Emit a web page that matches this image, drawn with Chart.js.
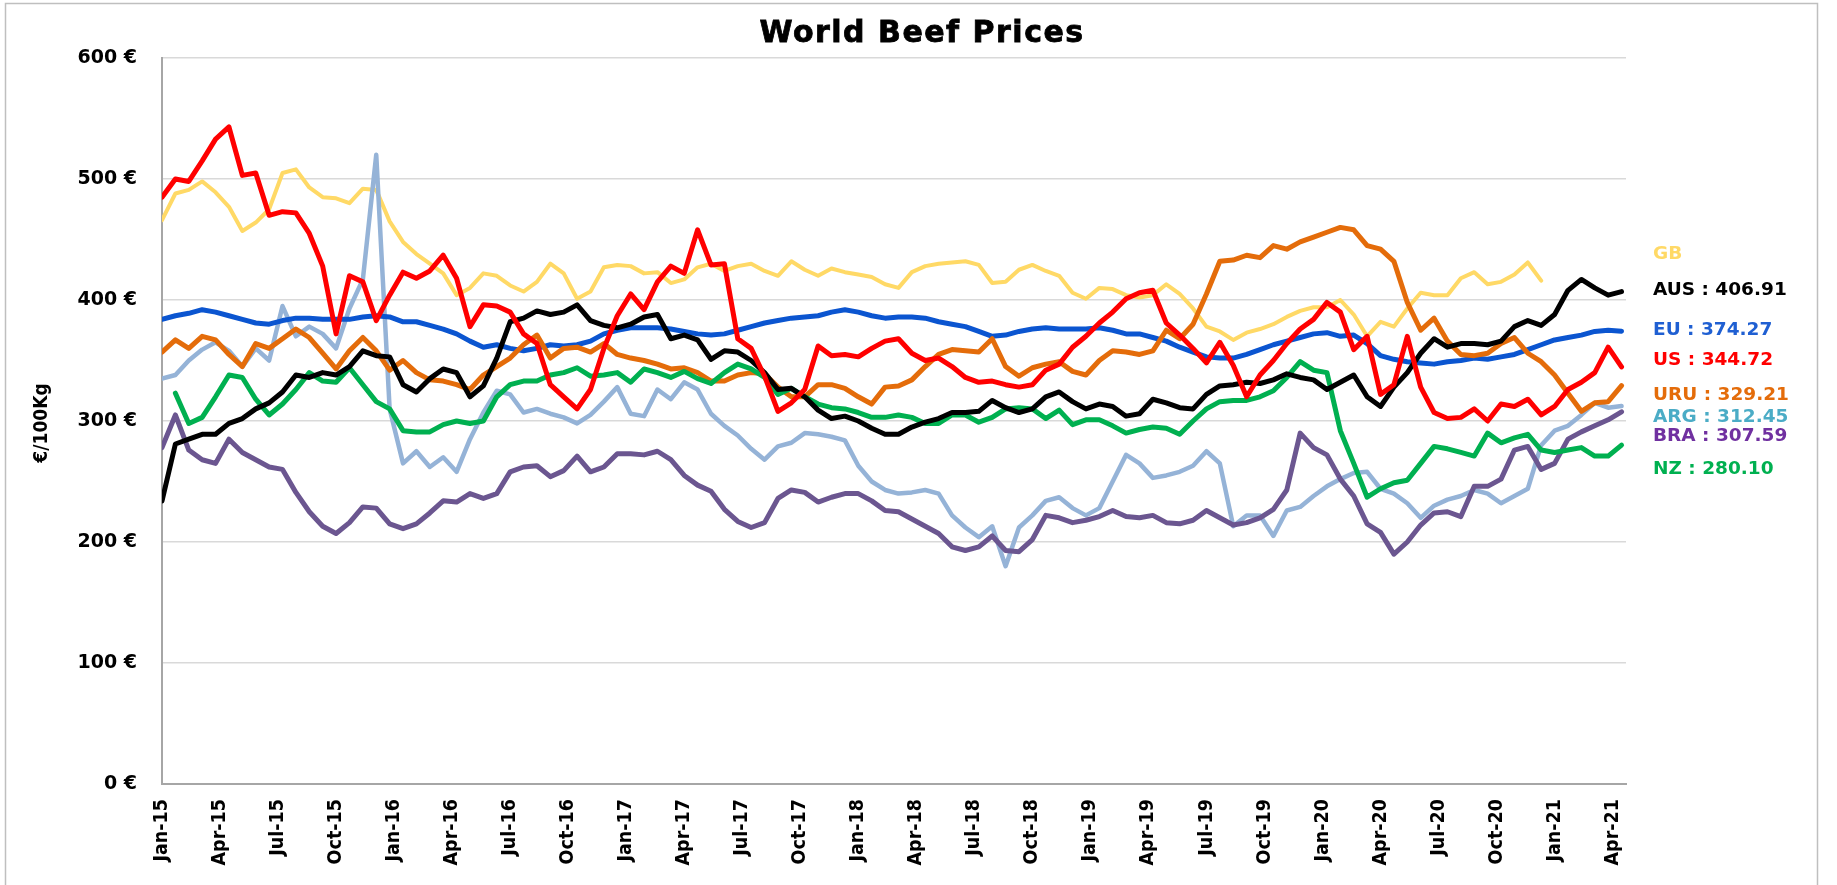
<!DOCTYPE html>
<html>
<head>
<meta charset="utf-8">
<title>World Beef Prices</title>
<script src="https://cdn.jsdelivr.net/npm/chart.js@4.4.1/dist/chart.umd.min.js"></script>
<style>
  html, body { margin: 0; padding: 0; background: #ffffff; }
  canvas { display: block; }
</style>
</head>
<body>
<canvas id="beefChart" width="1837" height="885"></canvas>
<script>
// Weekly prices (€/100Kg), one reading every third week from the first week of 2015.
const WEEK_STEP = 3;
const WEEKS_PER_QUARTER = 13;
const LAST_WEEK = 328;

const quarterLabels = [
  'Jan-15','Apr-15','Jul-15','Oct-15','Jan-16','Apr-16','Jul-16','Oct-16',
  'Jan-17','Apr-17','Jul-17','Oct-17','Jan-18','Apr-18','Jul-18','Oct-18',
  'Jan-19','Apr-19','Jul-19','Oct-19','Jan-20','Apr-20','Jul-20','Oct-20',
  'Jan-21','Apr-21'
];

const usPrices = [
  485, 500, 498, 515, 533, 543, 503, 505, 470, 473, 472, 455, 428, 372, 420, 415, 383, 404, 423,
  418, 424, 437, 418, 378, 396, 395, 390, 372, 364, 330, 320, 310, 326, 360, 387, 405, 392,
  415, 428, 422, 458, 429, 430, 368, 360, 337, 308, 315, 326, 362, 354, 355, 353, 360, 366,
  368, 356, 350, 352, 345, 336, 332, 333, 330, 328, 330, 342, 347, 361, 370, 381, 390, 401,
  406, 408, 381, 371, 360, 348, 365, 346, 320, 338, 350, 364, 376, 384, 398, 390, 359, 370,
  322,
  330, 370, 328, 307, 302, 303, 310, 300, 314, 312, 318, 305, 312, 326, 332, 340, 361, 344.72
];

const gbPrices = [
  466, 488, 491, 498, 489, 477, 457, 464, 475, 505, 508, 493, 485, 484, 480, 492, 491, 465, 448,
  438, 430, 422, 404, 410, 422, 420, 412, 407, 415, 430, 422, 401, 407, 427, 429, 428, 422,
  423, 414, 417, 427, 430, 424, 428, 430, 424, 420, 432, 425, 420, 426, 423, 421, 419, 413,
  410, 423, 428, 430, 431, 432, 429, 414, 415, 425, 429, 424, 420, 406, 401, 410, 409, 404,
  402, 404, 413, 405, 393, 378, 374, 367, 373, 376, 380, 386, 391, 394, 394, 400, 388, 370,
  382,
  378, 393, 406, 404, 404, 418, 423, 413, 415, 421, 431, 416, null, null, null, null, null, null
];

const euPrices = [
  384, 387, 389, 392, 390, 387, 384, 381, 380, 383, 385, 385, 384, 384, 384, 386, 387, 386, 382,
  382, 379, 376, 372, 366, 361, 363, 360, 358, 360, 363, 362, 363, 366, 372, 375, 377, 377,
  377, 376, 374, 372, 371, 372, 375, 378, 381, 383, 385, 386, 387, 390, 392, 390, 387, 385,
  386, 386, 385, 382, 380, 378, 374, 370, 371, 374, 376, 377, 376, 376, 376, 377, 375, 372,
  372, 369, 366, 361, 357, 353, 352, 352, 355, 359, 363, 366, 369, 372, 373, 370, 371, 364,
  354,
  351, 349, 348, 347, 349, 350, 352, 351, 353, 355, 359, 363, 367, 369, 371, 374, 375, 374.27
];

const uruPrices = [
  357, 367, 360, 370, 367, 355, 345, 364, 360, 368, 376, 369, 356, 343, 358, 369, 358, 342, 350,
  340, 334, 333, 330, 326, 338, 345, 352, 363, 371, 352, 360, 361, 357, 364, 355, 352, 350,
  347, 343, 344, 340, 333, 333, 338, 340, 339, 328, 320, 320, 330, 330, 327, 320, 314, 328,
  329, 334, 345, 355, 359, 358, 357, 368, 345, 337, 344, 347, 349, 341, 338, 350, 358, 357,
  355, 358, 375, 368, 380, 405, 432, 433, 437, 435, 445, 442, 448, 452, 456, 460, 458, 445,
  442,
  432, 398, 375, 385, 366, 355, 354, 356, 364, 369, 356, 349, 338, 323, 308, 315, 316, 329.21
];

const argPrices = [
  335, 338, 350, 359, 365, 358, 345, 360, 350, 395, 370, 378, 372, 360, 393, 417, 520, 310, 265,
  275, 262, 270, 258, 285, 307, 325, 322, 307, 310, 306, 303, 298, 305, 316, 328, 306, 304,
  326, 318, 332, 326, 306, 296, 288, 277, 268, 279, 282, 290, 289, 287, 284, 263, 250, 243,
  240, 241, 243, 240, 222, 212, 204, 213, 180, 212, 222, 234, 237, 228, 222, 228, 250, 272,
  265, 253, 255, 258, 263, 275, 265, 213, 222, 222, 205, 226, 229, 238, 246, 252, 257, 258,
  244,
  240, 232, 220, 230, 235, 238, 243, 240, 232, 238, 244, 280, 292, 296, 305, 315, 311, 312.45
];

const braPrices = [
  278, 305, 276, 268, 265, 285, 274, 268, 262, 260, 241, 225, 213, 207, 216, 229, 228, 215, 211,
  215, 224, 234, 233, 240, 236, 240, 258, 262, 263, 254, 259, 271, 258, 262, 273, 273, 272,
  275, 268, 255, 247, 242, 227, 217, 212, 216, 236, 243, 241, 233, 237, 240, 240, 234, 226,
  225, 219, 213, 207, 196, 193, 196, 205, 193, 192, 202, 222, 220, 216, 218, 221, 226, 221,
  220, 222, 216, 215, 218, 226, 220, 214, 216, 220, 227, 243, 290, 278, 272, 252, 238, 215,
  208,
  190, 200, 214, 224, 225, 221, 246, 246, 252, 276, 279, 260, 265, 285, 291, 296, 301, 307.59
];

const ausPrices = [
  234, 281, 285, 289, 289, 298, 302, 310, 315, 324, 338, 336, 340, 338, 345, 358, 354, 353, 330,
  324, 335, 343, 340, 320, 329, 352, 382, 385, 391, 388, 390, 396, 383, 379, 377, 380, 386,
  388, 368, 371, 367, 351, 358, 357, 350, 340, 326, 327, 320, 309, 302, 304, 300, 294, 289,
  289, 295, 299, 302, 307, 307, 308, 317, 311, 307, 310, 320, 324, 316, 310, 314, 312, 304,
  306, 318, 315, 311, 310, 322, 329, 330, 332, 331, 334, 339, 336, 334, 326, 332, 338, 320,
  312,
  328, 340, 356, 368, 361, 364, 364, 363, 366, 378, 383, 379, 388, 408, 417, 410, 404, 406.91
];

const nzPrices = [
  null, 323, 298, 303, 320, 338, 336, 318, 305, 314, 326, 340, 333, 332, 344, 330, 316, 310, 292,
  291, 291, 297, 300, 298, 300, 320, 330, 333, 333, 338, 340, 344, 337, 338, 340, 332, 343,
  340, 336, 341, 335, 331, 340, 347, 343, 336, 322, 327, 320, 314, 311, 310, 307, 303, 303,
  305, 303, 298, 298, 305, 305, 299, 303, 310, 311, 310, 302, 309, 297, 301, 301, 296, 290,
  293, 295, 294, 289, 300, 310, 316, 317, 317, 320, 325, 336, 349, 342, 340, 292, 265, 237,
  244,
  249, 251, 265, 279, 277, 274, 271, 290, 282, 286, 289, 276, 274, 276, 278, 271, 271, 280.10
];

// Series listed top-most first (Chart.js paints the first dataset last).
const series = [
  { name: 'US',  values: usPrices,  line: '#FF0000', text: '#FF0000', width: 5, showValue: true },
  { name: 'AUS', values: ausPrices, line: '#000000', text: '#000000', width: 5, showValue: true },
  { name: 'NZ',  values: nzPrices,  line: '#00B050', text: '#00B050', width: 5, showValue: true },
  { name: 'URU', values: uruPrices, line: '#E46C0A', text: '#E46C0A', width: 5, showValue: true },
  { name: 'EU',  values: euPrices,  line: '#0B55D0', text: '#1F5FD2', width: 5, showValue: true },
  { name: 'BRA', values: braPrices, line: '#6B5690', text: '#7030A0', width: 5, showValue: true },
  { name: 'ARG', values: argPrices, line: '#95B3D7', text: '#4BACC6', width: 4.5, showValue: true },
  { name: 'GB',  values: gbPrices,  line: '#FFD966', text: '#FFD966', width: 4, showValue: false }
];

// Right-hand name/value tags, top to bottom, with their vertical centres.
const tagOrder = ['GB', 'AUS', 'EU', 'US', 'URU', 'ARG', 'BRA', 'NZ'];
const tagY = { GB: 254, AUS: 290, EU: 330, US: 360, URU: 395, ARG: 417, BRA: 436, NZ: 469 };
const TAG_X = 1653;

function lastValue(values) {
  for (let i = values.length - 1; i >= 0; i--) {
    if (values[i] !== null) return values[i];
  }
  return null;
}

const framePlugin = {
  id: 'frameAndTitle',
  beforeDraw(chart) {
    const ctx = chart.ctx;
    ctx.save();
    ctx.fillStyle = '#ffffff';
    ctx.fillRect(0, 0, chart.width, chart.height);
    ctx.strokeStyle = '#BFBFBF';
    ctx.lineWidth = 1.5;
    ctx.strokeRect(5.5, 3.5, 1812, 900);

    // chart title
    ctx.fillStyle = '#000000';
    ctx.strokeStyle = '#000000';
    ctx.lineWidth = 0.8;
    ctx.font = 'bold 30px "DejaVu Sans", Verdana, sans-serif';
    ctx.letterSpacing = '1.5px';
    ctx.textAlign = 'center';
    ctx.textBaseline = 'middle';
    ctx.fillText('World Beef Prices', 922, 34);
    ctx.strokeText('World Beef Prices', 922, 34);
    ctx.letterSpacing = '0px';

    // value-axis title
    ctx.translate(42, 423);
    ctx.rotate(-Math.PI / 2);
    ctx.font = 'bold 19px "Liberation Sans Narrow", "DejaVu Sans Condensed", "Liberation Sans", sans-serif';
    ctx.fillText('€/100Kg', 0, 0);
    ctx.restore();
  },
  afterDatasetsDraw(chart) {
    const ctx = chart.ctx;
    ctx.save();
    ctx.font = 'bold 18.5px "DejaVu Sans", Verdana, sans-serif';
    ctx.textAlign = 'left';
    ctx.textBaseline = 'middle';
    tagOrder.forEach(name => {
      const s = series.find(item => item.name === name);
      const text = s.showValue ? `${s.name} : ${lastValue(s.values).toFixed(2)}` : s.name;
      ctx.fillStyle = s.text;
      ctx.fillText(text, TAG_X, tagY[name]);
    });
    ctx.restore();
  }
};

new Chart(document.getElementById('beefChart'), {
  type: 'line',
  data: {
    datasets: series.map(s => ({
      label: s.name,
      data: s.values.map((v, i) => ({ x: i * WEEK_STEP, y: v })),
      borderColor: s.line,
      backgroundColor: s.line,
      borderWidth: s.width,
      borderJoinStyle: 'round',
      borderCapStyle: 'round',
      pointRadius: 0,
      pointHoverRadius: 0,
      tension: 0,
      fill: false,
      spanGaps: false
    }))
  },
  options: {
    responsive: false,
    animation: false,
    devicePixelRatio: 1,
    layout: { padding: { top: 58, right: 211, bottom: 0, left: 0 } },
    plugins: {
      legend: { display: false },
      title: { display: false },
      tooltip: { enabled: false }
    },
    scales: {
      x: {
        type: 'linear',
        min: 0,
        max: LAST_WEEK,
        afterFit(scale) { scale.height = 101; },
        afterBuildTicks(scale) {
          scale.ticks = quarterLabels.map((_, i) => ({ value: i * WEEKS_PER_QUARTER }));
        },
        grid: { display: false, drawTicks: false },
        border: { display: true, color: '#A6A6A6', width: 2 },
        ticks: {
          autoSkip: false,
          minRotation: 90,
          maxRotation: 90,
          padding: 15,
          color: '#000000',
          font: { family: '"Liberation Sans Narrow", "DejaVu Sans Condensed", "Liberation Sans", sans-serif', size: 19.5, weight: 'bold' },
          callback(value) {
            const idx = Math.round(value / WEEKS_PER_QUARTER);
            return quarterLabels[idx] ?? '';
          }
        }
      },
      y: {
        min: 0,
        max: 600,
        afterFit(scale) { scale.width = 162; },
        grid: {
          drawTicks: false,
          lineWidth: 1.5,
          color: ctx => (ctx.tick && ctx.tick.value === 0) ? 'rgba(0,0,0,0)' : '#D9D9D9'
        },
        border: { display: true, color: '#A6A6A6', width: 2 },
        ticks: {
          stepSize: 100,
          padding: 25,
          color: '#000000',
          font: { family: '"DejaVu Sans", Verdana, sans-serif', size: 19, weight: 'bold' },
          callback: value => `${value} €`
        }
      }
    }
  },
  plugins: [framePlugin]
});
</script>
</body>
</html>
